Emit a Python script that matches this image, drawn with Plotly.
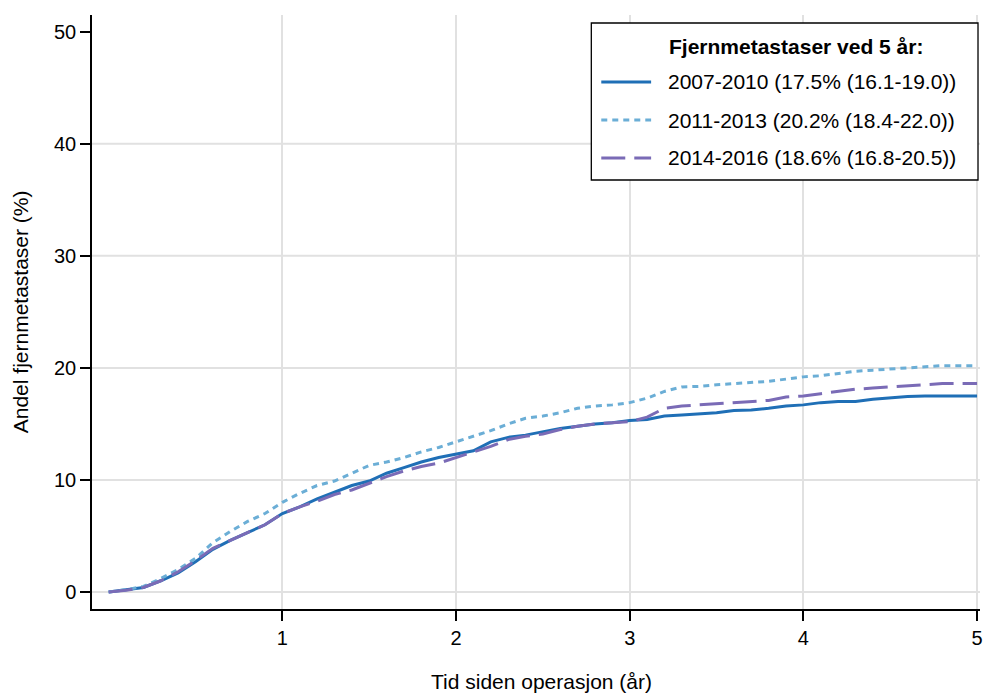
import plotly.graph_objects as go

# Cumulative incidence of distant metastases (%) by years since surgery
years = [0.0, 0.1, 0.2, 0.3, 0.4, 0.5, 0.6, 0.7, 0.8, 0.9,
         1.0, 1.1, 1.2, 1.3, 1.4, 1.5, 1.6, 1.7, 1.8, 1.9,
         2.0, 2.1, 2.2, 2.3, 2.4, 2.5, 2.6, 2.7, 2.8, 2.9,
         3.0, 3.1, 3.2, 3.3, 3.4, 3.5, 3.6, 3.7, 3.8, 3.9,
         4.0, 4.1, 4.2, 4.3, 4.4, 4.5, 4.6, 4.7, 4.8, 4.9, 5.0]

period_2007_2010 = [0.0, 0.2, 0.4, 1.0, 1.7, 2.7, 3.8, 4.6, 5.3, 6.0,
                    7.0, 7.6, 8.3, 8.9, 9.5, 9.9, 10.6, 11.1, 11.6, 12.0,
                    12.3, 12.6, 13.4, 13.8, 14.0, 14.3, 14.6, 14.8, 15.0, 15.1,
                    15.3, 15.4, 15.7, 15.8, 15.9, 16.0, 16.2, 16.25, 16.4, 16.6,
                    16.7, 16.9, 17.0, 17.0, 17.2, 17.35, 17.45, 17.5, 17.5, 17.5, 17.5]

period_2011_2013 = [0.0, 0.2, 0.5, 1.2, 2.0, 3.0, 4.4, 5.4, 6.3, 7.0,
                    8.0, 8.8, 9.5, 9.9, 10.6, 11.3, 11.6, 12.0, 12.5, 12.9,
                    13.4, 13.9, 14.4, 15.0, 15.5, 15.7, 16.0, 16.4, 16.6, 16.7,
                    16.9, 17.3, 17.9, 18.3, 18.35, 18.5, 18.6, 18.7, 18.8, 19.0,
                    19.2, 19.3, 19.5, 19.7, 19.8, 19.9, 20.0, 20.1, 20.2, 20.2, 20.2]

period_2014_2016 = [0.0, 0.15, 0.4, 1.0, 1.8, 2.8, 3.9, 4.6, 5.3, 6.0,
                    7.0, 7.6, 8.1, 8.7, 9.1, 9.7, 10.3, 10.8, 11.2, 11.5,
                    12.0, 12.5, 13.0, 13.6, 13.9, 14.1, 14.5, 14.8, 15.0, 15.1,
                    15.2, 15.6, 16.4, 16.6, 16.7, 16.8, 16.9, 17.0, 17.1, 17.4,
                    17.5, 17.7, 17.9, 18.1, 18.2, 18.3, 18.4, 18.5, 18.6, 18.6, 18.6]

labels = ["2007-2010 (17.5% (16.1-19.0))",
          "2011-2013 (20.2% (18.4-22.0))",
          "2014-2016 (18.6% (16.8-20.5))"]
legend_title = "Fjernmetastaser ved 5 år:"
x_ticks = [1, 2, 3, 4, 5]
y_ticks = [0, 10, 20, 30, 40, 50]
y_grid = [0, 10, 20, 30, 40]

colors = ["#1f6fb6", "#6baed6", "#7a6bb6"]
dashes = ["solid", "6px,5px", "24px,9px"]
series = [period_2007_2010, period_2011_2013, period_2014_2016]

W, H = 983, 696
ML, MR, MT, MB = 92, 0, 15, 87
PW, PH = W - ML - MR, H - MT - MB


def px(x):
    return (x - ML) / PW


def py(y):
    return (H - MB - y) / PH


FONT = "Liberation Sans, Arial, sans-serif"

fig = go.Figure()
for vals, name, col, dash in zip(series, labels, colors, dashes):
    fig.add_trace(go.Scatter(x=years, y=vals, mode="lines", name=name,
                             line=dict(color=col, width=3, dash=dash),
                             showlegend=False))

shapes = []
for g in y_grid:
    shapes.append(dict(type="line", xref="paper", yref="y", x0=0, x1=1, y0=g, y1=g,
                       line=dict(color="#e1e1e1", width=2), layer="below"))

# Legend box with line samples
shapes.append(dict(type="rect", xref="paper", yref="paper",
                   x0=px(593), x1=px(981), y0=py(23), y1=py(180),
                   line=dict(color="black", width=1.3), fillcolor="white", layer="above"))
annotations = [dict(xref="paper", yref="paper", x=px(669), y=py(47), text="<b>" + legend_title + "</b>",
                    showarrow=False, xanchor="left", yanchor="middle",
                    font=dict(family=FONT, size=21, color="black"))]
row_y = [82, 120, 158]
for ry, name, col, dash in zip(row_y, labels, colors, dashes):
    shapes.append(dict(type="line", xref="paper", yref="paper",
                       x0=px(603), x1=px(653), y0=py(ry), y1=py(ry),
                       line=dict(color=col, width=3, dash=dash), layer="above"))
    annotations.append(dict(xref="paper", yref="paper", x=px(668), y=py(ry), text=name,
                            showarrow=False, xanchor="left", yanchor="middle",
                            font=dict(family=FONT, size=21, color="black")))

annotations.append(dict(xref="paper", yref="paper", x=px(20), y=py(312),
                        text="Andel fjernmetastaser (%)", textangle=-90, showarrow=False,
                        xanchor="center", yanchor="middle",
                        font=dict(family=FONT, size=21, color="black")))
annotations.append(dict(xref="paper", yref="paper", x=px(543), y=py(695),
                        text="Tid siden operasjon (år)", showarrow=False,
                        xanchor="center", yanchor="bottom",
                        font=dict(family=FONT, size=21, color="black")))

fig.update_layout(
    width=W, height=H,
    margin=dict(l=ML, r=MR, t=MT, b=MB),
    paper_bgcolor="white", plot_bgcolor="white",
    shapes=shapes, annotations=annotations,
    showlegend=False,
    font=dict(family=FONT, size=20, color="black"),
    xaxis=dict(range=[-0.096, 5.017], tickvals=x_ticks, showgrid=True,
               gridcolor="#e1e1e1", gridwidth=2, zeroline=False,
               showline=True, linecolor="black", linewidth=1.5,
               ticks="outside", ticklen=10, tickwidth=1.5, tickcolor="black",
               ticklabeloverflow="allow",
               tickfont=dict(family=FONT, size=20, color="black")),
    yaxis=dict(range=[-1.52, 51.5], tickvals=y_ticks, showgrid=False,
               zeroline=False, showline=True, linecolor="black", linewidth=1.5,
               ticks="outside", ticklen=10, tickwidth=1.5, tickcolor="black",
               tickfont=dict(family=FONT, size=20, color="black")),
)

fig.write_html("out.html")
